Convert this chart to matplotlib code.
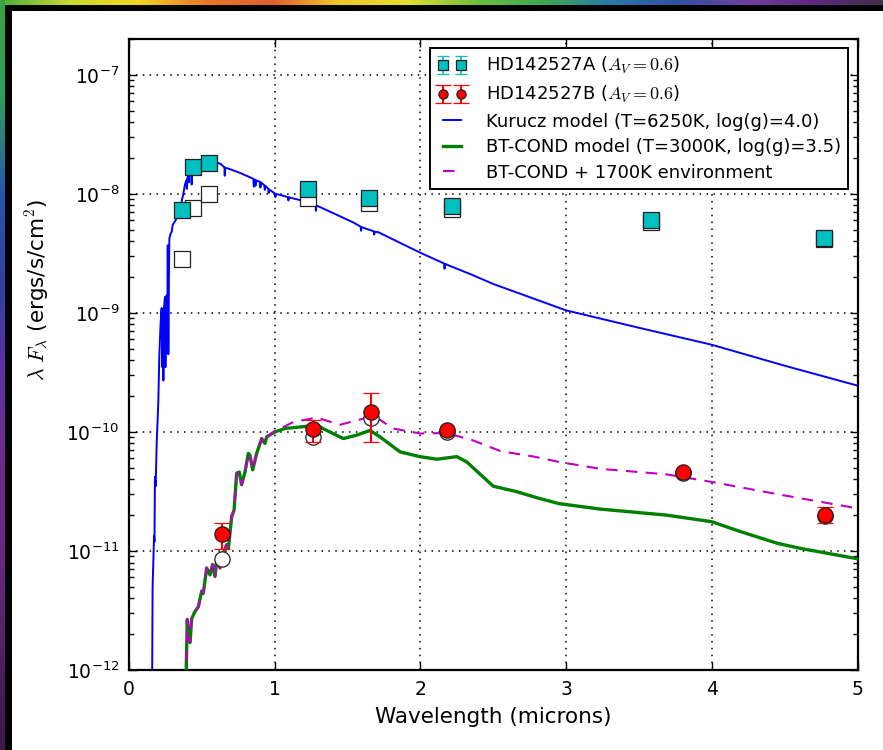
import matplotlib
matplotlib.use("Agg")
import matplotlib.pyplot as plt
import numpy as np
from matplotlib.colors import LinearSegmentedColormap
from matplotlib.patches import Rectangle
from matplotlib.ticker import LogLocator

plt.rcParams["font.family"] = ["DejaVu Sans"]
plt.rcParams["mathtext.fontset"] = "cm"

# ---------------- photometry ----------------
# HD142527A: dereddened (filled) and observed (open) fluxes
a_wave = [0.362, 0.441, 0.549, 1.231, 1.649, 2.217, 3.583, 4.770]
a_flux = [7.3e-9, 1.67e-8, 1.81e-8, 1.10e-8, 9.3e-9, 7.98e-9, 6.0e-9, 4.27e-9]
a_err = [2.0e-10, 5.0e-10, 5.0e-10, 3.0e-10, 2.0e-10, 2.0e-10, 1.5e-10, 1.0e-10]
a_obs_flux = [2.83e-9, 7.63e-9, 1.0e-8, 9.2e-9, 8.3e-9, 7.5e-9, 5.85e-9, 4.2e-9]

# HD142527B: dereddened (filled) and observed (open) fluxes
b_wave = [0.640, 1.265, 1.661, 2.180, 3.800, 4.780]
b_flux = [1.38e-11, 1.05e-10, 1.47e-10, 1.04e-10, 4.62e-11, 2.02e-11]
b_err = [3.4e-12, 2.2e-11, 6.5e-11, 2.0e-12, 1.0e-12, 3.0e-12]
b_obs_flux = [8.6e-12, 9.0e-11, 1.32e-10, 1.0e-10, 4.52e-11, 1.98e-11]

# ---------------- model spectra ----------------
kurucz_wave = [0.158, 0.162, 0.172, 0.175, 0.178, 0.183, 0.190, 0.201, 0.208,
               0.217, 0.224, 0.229, 0.233, 0.236, 0.240, 0.247, 0.250, 0.255,
               0.258, 0.262, 0.266, 0.270, 0.274, 0.277, 0.285, 0.293, 0.300,
               0.316, 0.330, 0.339, 0.360, 0.373, 0.384, 0.395, 0.397, 0.400,
               0.407, 0.410, 0.413, 0.419, 0.425, 0.430, 0.434, 0.453, 0.484,
               0.486, 0.489, 0.533, 0.590, 0.630, 0.655, 0.657, 0.660, 0.700,
               0.762, 0.853, 0.857, 0.865, 0.868, 0.872, 0.899, 0.902, 0.906,
               0.929, 0.932, 0.936, 0.956, 0.959, 0.962, 1.000, 1.005, 1.009,
               1.090, 1.094, 1.098, 1.200, 1.280, 1.283, 1.286, 1.540, 1.590,
               1.593, 1.596, 1.680, 1.683, 1.686, 1.710, 2.000, 2.163, 2.166,
               2.169, 2.350, 2.500, 3.000, 3.500, 4.000, 4.500, 5.000]
kurucz_flux = [5e-13, 5e-12, 1.34e-11, 1.2e-11, 4.2e-11, 3.5e-11, 8e-11, 1.74e-10, 4.3e-10,
               8.2e-10, 1.1e-9, 3.5e-10, 1.0e-9, 2.7e-10, 1.1e-9, 1.36e-9, 3.5e-10, 1.3e-9,
               1.4e-9, 4.6e-10, 3.7e-9, 4.5e-10, 2.0e-9, 4.2e-9, 4.6e-9, 4.8e-9, 5.5e-9,
               5.9e-9, 6.3e-9, 6.6e-9, 8.5e-9, 1.0e-8, 1.2e-8, 1.3e-8, 1.1e-8, 1.35e-8,
               1.42e-8, 1.25e-8, 1.5e-8, 1.57e-8, 1.6e-8, 1.2e-8, 1.62e-8, 1.77e-8, 1.83e-8,
               1.6e-8, 1.84e-8, 1.9e-8, 1.86e-8, 1.78e-8, 1.67e-8, 1.42e-8, 1.66e-8, 1.6e-8,
               1.5e-8, 1.34e-8, 1.15e-8, 1.32e-8, 1.17e-8, 1.3e-8, 1.26e-8, 1.13e-8, 1.25e-8,
               1.18e-8, 1.08e-8, 1.17e-8, 1.1e-8, 1.02e-8, 1.09e-8, 1.01e-8, 9.4e-9, 1.0e-8,
               9.4e-9, 8.8e-9, 9.35e-9, 8.7e-9, 8.1e-9, 7.2e-9, 8.0e-9, 5.75e-9, 5.3e-9,
               4.9e-9, 5.25e-9, 4.85e-9, 4.55e-9, 4.8e-9, 4.77e-9, 3.2e-9, 2.6e-9, 2.35e-9,
               2.58e-9, 2.1e-9, 1.75e-9, 1.05e-9, 7.5e-10, 5.4e-10, 3.6e-10, 2.45e-10]

cond_wave = [0.391, 0.400, 0.410, 0.419, 0.430, 0.453, 0.476, 0.499, 0.510,
             0.533, 0.556, 0.574, 0.590, 0.602, 0.625, 0.647, 0.670, 0.682,
             0.705, 0.721, 0.739, 0.757, 0.773, 0.796, 0.819, 0.830, 0.849,
             0.876, 0.911, 0.933, 0.945]
cond_flux = [8e-13, 2.66e-12, 1.8e-12, 1.7e-12, 2.7e-12, 3.1e-12, 3.4e-12, 4.6e-12, 4.4e-12,
             7.2e-12, 6.3e-12, 7.7e-12, 6.1e-12, 8.2e-12, 7.2e-12, 9.6e-12, 1.13e-11, 1.05e-11,
             1.95e-11, 2.2e-11, 4.5e-11, 4.6e-11, 3.6e-11, 4.6e-11, 6.6e-11, 6.4e-11, 4.8e-11,
             6.6e-11, 8.8e-11, 8.0e-11, 9.1e-11]

# BT-COND photosphere beyond 0.95 micron
cond_ir_wave = [1.002, 1.071, 1.174, 1.288, 1.357, 1.471, 1.563, 1.654, 1.722,
                1.860, 1.997, 2.112, 2.250, 2.318, 2.500, 2.660, 2.800, 2.950,
                3.233, 3.690, 4.000, 4.200, 4.450, 4.610, 5.000]
cond_ir_flux = [1.0e-10, 1.07e-10, 1.1e-10, 1.14e-10, 1.03e-10, 8.8e-11, 9.4e-11, 1.03e-10, 9.1e-11,
                6.8e-11, 6.2e-11, 5.9e-11, 6.2e-11, 5.6e-11, 3.5e-11, 3.15e-11, 2.8e-11, 2.5e-11,
                2.25e-11, 2.0e-11, 1.76e-11, 1.45e-11, 1.16e-11, 1.05e-11, 8.6e-12]

# photosphere plus warm (1700 K) circumstellar emission beyond 0.95 micron
env_ir_wave = [0.990, 1.128, 1.288, 1.448, 1.586, 1.677, 1.810, 2.000, 2.180,
               2.360, 2.550, 2.780, 2.950, 3.233, 3.690, 4.000, 4.450, 5.000]
env_ir_flux = [1.0e-10, 1.21e-10, 1.32e-10, 1.15e-10, 1.27e-10, 1.38e-10, 1.07e-10, 9.7e-11, 9.8e-11,
               8.5e-11, 6.9e-11, 6.2e-11, 5.6e-11, 4.9e-11, 4.4e-11, 3.8e-11, 3.0e-11, 2.28e-11]

# slide background decoration colours
top_band_colors = ["#4caf3c", "#c8d830", "#f0d820", "#e8782a", "#e06030", "#f0c828",
                   "#e4e030", "#6cc040", "#40a850", "#2878a8", "#3050a0", "#7040a0",
                   "#602880", "#40304a"]
side_band_colors = ["#3ca040", "#30a060", "#2858a8", "#3040a0", "#6030a0", "#702a88",
                    "#6a2880", "#502060", "#3a1848"]

fig = plt.figure(figsize=(8.83, 7.5), dpi=100)
W, H = 883.0, 750.0

# decorative rainbow bands and black frame
grad = np.linspace(0, 1, 256)
ax_top = fig.add_axes([0, 1 - 5 / H, 1, 5 / H])
ax_top.imshow(grad[None, :], aspect="auto",
              cmap=LinearSegmentedColormap.from_list("topband", top_band_colors))
ax_top.set_axis_off()
ax_side = fig.add_axes([0, 0, 5 / W, 1])
ax_side.imshow(grad[:, None], aspect="auto",
               cmap=LinearSegmentedColormap.from_list("sideband", side_band_colors))
ax_side.set_axis_off()
fig.patches.append(Rectangle((5 / W, 1 - 11 / H), 1, 6 / H, transform=fig.transFigure,
                             facecolor="black", edgecolor="none", zorder=5))
fig.patches.append(Rectangle((5 / W, 0), 7 / W, 1 - 5 / H, transform=fig.transFigure,
                             facecolor="black", edgecolor="none", zorder=5))

ax = fig.add_axes([129 / W, 1 - 670 / H, (857.5 - 129) / W, (670 - 39) / H])

ax.plot(kurucz_wave, kurucz_flux, color="b", lw=1.4,
        label="Kurucz model (T=6250K, log(g)=4.0)", zorder=2)
ax.plot(cond_wave + cond_ir_wave, cond_flux + cond_ir_flux, color="g", lw=2.4,
        label="BT-COND model (T=3000K, log(g)=3.5)", zorder=3)
ax.plot(cond_wave + env_ir_wave, cond_flux + env_ir_flux, color="m", lw=1.5,
        linestyle=(0, (5.5, 4)), label="BT-COND + 1700K environment", zorder=4)

ax.plot(a_wave, a_obs_flux, linestyle="none", marker="s", ms=11, mfc="white",
        mec="#222222", mew=0.9, zorder=5)
ax.errorbar(a_wave, a_flux, yerr=a_err, fmt="s", ms=11, mfc="c", mec="#202020",
            mew=0.9, ecolor="c", elinewidth=1.2, capsize=4, capthick=1.2,
            label=r"HD142527A ($A_V=0.6$)", zorder=6)

ax.plot(b_wave, b_obs_flux, linestyle="none", marker="o", ms=11, mfc="white",
        mec="#222222", mew=0.9, zorder=5)
ax.errorbar(b_wave, b_flux, yerr=b_err, fmt="o", ms=11, mfc="r", mec="#202020",
            mew=0.9, ecolor="r", elinewidth=1.5, capsize=6, capthick=1.5,
            label=r"HD142527B ($A_V=0.6$)", zorder=6)

ax.set_yscale("log")
ax.set_xlim(0, 5)
ax.set_ylim(1e-12, 2e-7)
ax.yaxis.set_major_locator(LogLocator(base=10, numticks=20))
ax.yaxis.set_minor_locator(LogLocator(base=10, subs=np.arange(2, 10), numticks=20))
ax.set_xticks([0, 1, 2, 3, 4, 5])

ax.grid(True, which="major", color="black", linestyle=(0, (1, 3.5)), lw=1.1)
ax.tick_params(which="both", direction="in", top=True, right=True, labelsize=13.5,
               width=1.0, color="black")
ax.tick_params(which="major", length=6, pad=7)
ax.tick_params(which="minor", length=3.5)
for s in ax.spines.values():
    s.set_linewidth(1.6)

ax.set_xlabel("Wavelength (microns)", fontsize=15.5, labelpad=6)
ax.set_ylabel(r"$\lambda\ F_\lambda$ (ergs/s/cm$^2$)", fontsize=15.5)
ax.yaxis.set_label_coords(-0.107, 0.602)

h, l = ax.get_legend_handles_labels()
order = [3, 4, 0, 1, 2]
leg = ax.legend([h[i] for i in order], [l[i] for i in order], loc="upper right",
                numpoints=2, fontsize=13, markerscale=0.6, fancybox=False,
                framealpha=1, edgecolor="black", handlelength=1.6,
                handletextpad=1.1, borderpad=0.4, labelspacing=0.42,
                borderaxespad=0.5)
leg.get_frame().set_linewidth(1.4)

fig.savefig("out.png", dpi=100)
